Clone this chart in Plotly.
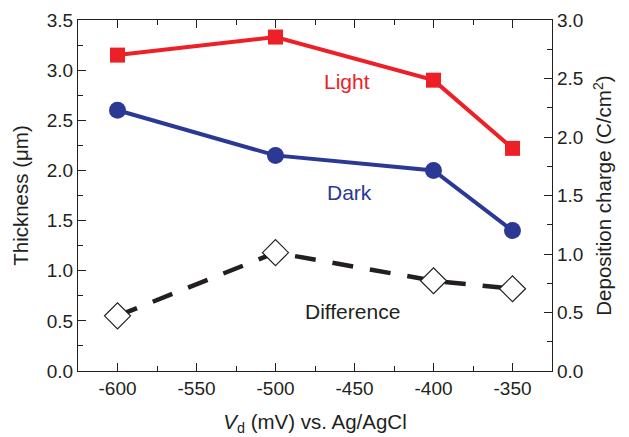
import plotly.graph_objects as go

vd = [-600, -500, -400, -350]
light = [3.15, 3.33, 2.90, 2.22]
dark = [2.60, 2.15, 2.00, 1.40]
difference = [0.55, 1.18, 0.90, 0.82]
x_ticks = [-600, -550, -500, -450, -400, -350]
x_ticktext = ["-600", "-550", "-500", "-450", "-400", "-350"]

RED = "#ED2027"
BLUE = "#2B3894"
INK = "#231F20"
FONT = "Liberation Sans, Arial, sans-serif"

fig = go.Figure()
fig.add_trace(go.Scatter(x=vd, y=light, mode="lines+markers",
                         line=dict(color=RED, width=4),
                         marker=dict(symbol="square", size=15, color=RED),
                         showlegend=False))
fig.add_trace(go.Scatter(x=vd, y=dark, mode="lines+markers",
                         line=dict(color=BLUE, width=4),
                         marker=dict(symbol="circle", size=17, color=BLUE),
                         showlegend=False))
fig.add_trace(go.Scatter(x=vd, y=difference, mode="lines+markers",
                         line=dict(color=INK, width=4.5, dash="21px,17px"),
                         marker=dict(symbol="diamond", size=20, color="white",
                                     line=dict(color=INK, width=1.2)),
                         showlegend=False))
# invisible trace to activate right axis
fig.add_trace(go.Scatter(x=[vd[0]], y=[0], yaxis="y2", mode="markers",
                         marker=dict(opacity=0), showlegend=False, hoverinfo="skip"))

fig.add_annotation(x=-455, y=2.89, text="Light", showarrow=False,
                   font=dict(color=RED, size=21, family=FONT))
fig.add_annotation(x=-453, y=1.78, text="Dark", showarrow=False,
                   font=dict(color=BLUE, size=21, family=FONT))
fig.add_annotation(x=-451, y=0.59, text="Difference", showarrow=False,
                   font=dict(color=INK, size=21, family=FONT))

axis_common = dict(showline=True, linecolor=INK, linewidth=1.3, ticks="inside",
                   ticklen=8, tickwidth=1.3, tickcolor=INK, showgrid=False,
                   zeroline=False, automargin=False,
                   tickfont=dict(size=19, color=INK, family=FONT))

fig.update_layout(
    width=629, height=437,
    margin=dict(l=78, r=77, t=20, b=66),
    paper_bgcolor="white", plot_bgcolor="white",
    font=dict(family=FONT, color=INK),
    xaxis=dict(range=[-625, -325], tickvals=x_ticks, ticktext=x_ticktext,
               mirror="ticks",
               minor=dict(ticks="inside", ticklen=5, tickcolor=INK, dtick=25, tick0=-625, showgrid=False),
               title=dict(text="<i>V</i><sub>d</sub> (mV) vs. Ag/AgCl", font=dict(size=20.5, color=INK), standoff=16),
               **axis_common),
    yaxis=dict(range=[0, 3.5], dtick=0.5, tickformat=".1f",
               minor=dict(ticks="inside", ticklen=5, tickcolor=INK, dtick=0.25, showgrid=False),
               title=dict(text="Thickness (μm)", font=dict(size=20.5, color=INK), standoff=12),
               **axis_common),
    yaxis2=dict(range=[0, 3.0], dtick=0.5, tickformat=".1f", overlaying="y", side="right",
                minor=dict(ticks="inside", ticklen=5, tickcolor=INK, dtick=0.25, showgrid=False),
                title=dict(text="Deposition charge (C/cm<sup>2</sup>)", font=dict(size=20.5, color=INK), standoff=14),
                **axis_common),
)

fig.write_html("out.html")
